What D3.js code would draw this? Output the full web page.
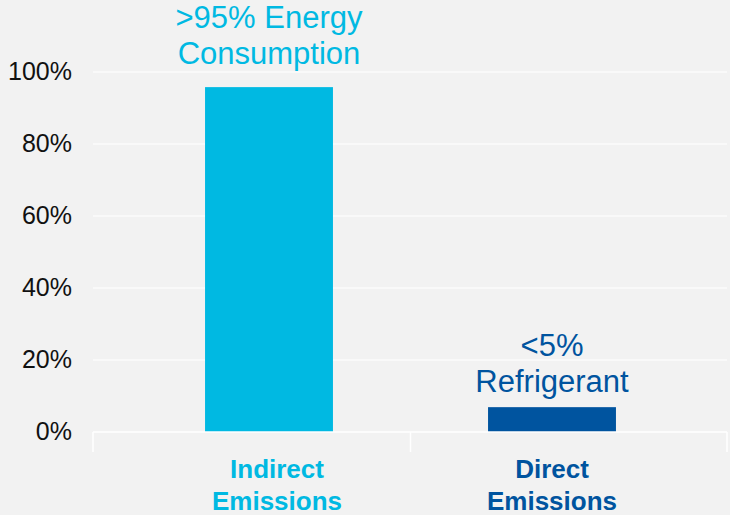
<!DOCTYPE html>
<html>
<head>
<meta charset="utf-8">
<script src="https://cdn.jsdelivr.net/npm/d3@7"></script>
<style>
  body { margin: 0; background: #f2f2f2; }
  svg { display: block; font-family: Arial, "Liberation Sans", sans-serif; }
</style>
</head>
<body>
<svg class="chart"></svg>
<script>
// data
var categories = [["Indirect", "Emissions"], ["Direct", "Emissions"]];
var values = [95.8, 6.9];
var barLabels = [[">95% Energy", "Consumption"], ["<5%", "Refrigerant"]];
var yTicks = [0, 20, 40, 60, 80, 100];

var width = 730,
    height = 515;
var colors = ["#00b9e2", "#00549f"];
var labelGap = [23, 15]; // space between bar top and the last label line

var svg = d3.select(".chart")
    .attr("width", width)
    .attr("height", height);

svg.append("rect")
    .attr("width", width)
    .attr("height", height)
    .attr("fill", "#f2f2f2");

var y = d3.scaleLinear()
    .domain([0, 100])
    .range([432, 72]);

var x = d3.scaleBand()
    .domain(d3.range(categories.length))
    .range([127.5, 693.5])
    .paddingInner(0.548)
    .paddingOuter(0.274);

var left = 93, right = 727;

// gridlines
svg.selectAll(".grid")
    .data(yTicks.slice(1))
    .enter()
      .append("line")
      .attr("class", "grid")
      .attr("x1", left)
      .attr("x2", right)
      .attr("y1", function(d) { return y(d); })
      .attr("y2", function(d) { return y(d); })
      .attr("stroke", "#ffffff")
      .attr("stroke-width", 1.2);

// y labels
svg.selectAll(".ylab")
    .data(yTicks)
    .enter()
      .append("text")
      .attr("class", "ylab")
      .attr("x", 72)
      .attr("y", function(d) { return y(d); })
      .attr("dy", "0.3em")
      .attr("text-anchor", "end")
      .attr("font-size", 25)
      .attr("fill", "#111")
      .text(function(d) { return d + "%"; });

// bars
svg.selectAll(".bar")
    .data(values)
    .enter()
      .append("rect")
      .attr("class", "bar")
      .attr("x", function(d, i) { return x(i); })
      .attr("width", x.bandwidth())
      .attr("y", function(d) { return y(d); })
      .attr("height", function(d) { return y(0) - y(d); })
      .attr("fill", function(d, i) { return colors[i]; });

// x axis line + separator ticks
var mid = (x(0) + x.bandwidth() + x(1)) / 2;
svg.append("line")
    .attr("x1", left).attr("x2", right)
    .attr("y1", y(0)).attr("y2", y(0))
    .attr("stroke", "#ffffff")
    .attr("stroke-width", 1.5);
svg.selectAll(".xtick")
    .data([left, mid, right])
    .enter()
      .append("line")
      .attr("class", "xtick")
      .attr("x1", function(d) { return d; })
      .attr("x2", function(d) { return d; })
      .attr("y1", y(0))
      .attr("y2", y(0) + 20)
      .attr("stroke", "#ffffff")
      .attr("stroke-width", 1.5);

// value labels above the bars
var vl = svg.selectAll(".vlab")
    .data(barLabels)
    .enter()
      .append("text")
      .attr("class", "vlab")
      .attr("text-anchor", "middle")
      .attr("font-size", 31)
      .attr("fill", function(d, i) { return colors[i]; });

vl.each(function(lines, i) {
    var cx = x(i) + x.bandwidth() / 2;
    var last = y(values[i]) - labelGap[i];
    d3.select(this).selectAll("tspan")
        .data(lines)
        .enter()
          .append("tspan")
          .attr("x", cx)
          .attr("y", function(d, j) { return last - (lines.length - 1 - j) * 36.5; })
          .text(function(d) { return d; });
});

// category labels
var cl = svg.selectAll(".clab")
    .data(categories)
    .enter()
      .append("text")
      .attr("class", "clab")
      .attr("text-anchor", "middle")
      .attr("font-size", 26)
      .attr("font-weight", "bold")
      .attr("fill", function(d, i) { return colors[i]; });

cl.each(function(lines, i) {
    var cx = x(i) + x.bandwidth() / 2 + (i === 0 ? 8 : 0);
    d3.select(this).selectAll("tspan")
        .data(lines)
        .enter()
          .append("tspan")
          .attr("x", cx)
          .attr("y", function(d, j) { return 478 + j * 32; })
          .text(function(d) { return d; });
});
</script>
</body>
</html>
